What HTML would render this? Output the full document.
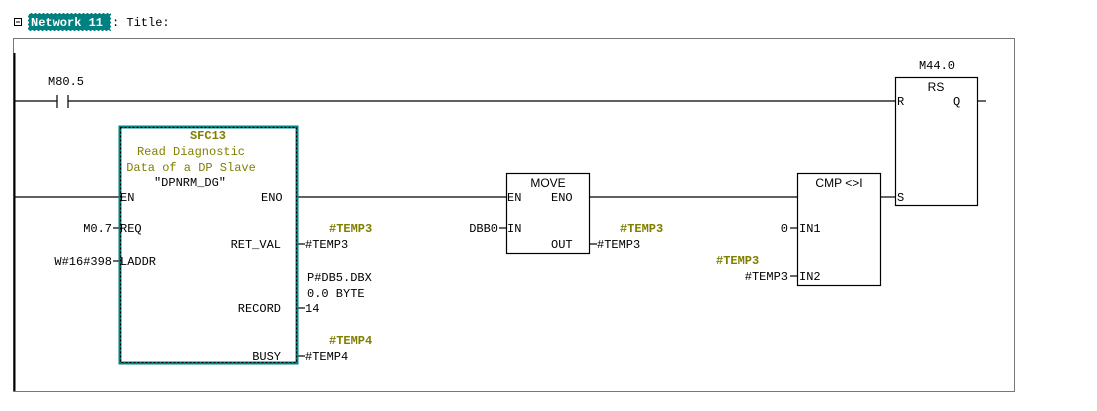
<!DOCTYPE html>
<html><head><style>
body{margin:0;background:#fff;width:1097px;height:406px;overflow:hidden}
svg text{font-family:"Liberation Mono","Noto Sans CJK SC",monospace;font-size:12px;fill:#000}
.o{fill:#808000;font-weight:bold}
.s{font-family:"Liberation Sans",sans-serif}
</style></head><body>
<svg width="1097" height="406" xmlns="http://www.w3.org/2000/svg">
<rect x="14.5" y="18.5" width="7" height="7" fill="none" stroke="#000"/>
<line x1="16" y1="22" x2="20" y2="22" stroke="#000"/>
<rect x="28" y="13" width="83" height="18" fill="#008080"/>
<rect x="28.5" y="13.5" width="82" height="17" fill="none" stroke="#fff" stroke-dasharray="2,2"/>
<text x="31" y="26" style="fill:#fff;font-weight:bold">Network 11</text>
<text x="112" y="26">: Title:</text>
<rect x="13.5" y="38.5" width="1001" height="353" fill="none" stroke="#777"/>
<line x1="14.5" y1="53" x2="14.5" y2="391" stroke="#000" stroke-width="2"/>
<g stroke="#000" stroke-width="1.2" fill="none">
<line x1="14" y1="101" x2="57" y2="101"/><line x1="68" y1="101" x2="895" y2="101"/>
<line x1="57" y1="95" x2="57" y2="108"/><line x1="68" y1="95" x2="68" y2="108"/>
<line x1="14" y1="197" x2="119" y2="197"/><line x1="298" y1="197" x2="506" y2="197"/>
<line x1="590" y1="197" x2="797" y2="197"/><line x1="880" y1="197" x2="895" y2="197"/>
<line x1="977" y1="101" x2="986" y2="101"/>
<line x1="113" y1="228" x2="119" y2="228"/><line x1="113" y1="261" x2="119" y2="261"/>
<line x1="298" y1="244" x2="305" y2="244"/><line x1="298" y1="308" x2="305" y2="308"/><line x1="298" y1="356" x2="305" y2="356"/>
<line x1="499" y1="228" x2="506" y2="228"/><line x1="590" y1="244" x2="597" y2="244"/>
<line x1="790" y1="228" x2="797" y2="228"/><line x1="790" y1="276" x2="797" y2="276"/>
<rect x="506.5" y="173.5" width="83" height="80"/>
<rect x="797.5" y="173.5" width="83" height="112"/>
<rect x="895.5" y="77.5" width="82" height="128"/>
</g>
<rect x="120" y="127" width="177" height="236" fill="none" stroke="#008080" stroke-width="3"/>
<rect x="120.5" y="127.5" width="176" height="235" fill="none" stroke="#000" stroke-dasharray="2,2"/>
<text x="48" y="85">M80.5</text>
<text x="208" y="139" text-anchor="middle" class="o">SFC13</text>
<text x="191" y="155" text-anchor="middle" style="fill:#808000">Read Diagnostic</text>
<text x="191" y="171" text-anchor="middle" style="fill:#808000">Data of a DP Slave</text>
<text x="190" y="186" text-anchor="middle">"DPNRM_DG"</text>
<text x="120" y="201">EN</text><text x="261" y="201">ENO</text>
<text x="112" y="232" text-anchor="end">M0.7</text><text x="120" y="232">REQ</text>
<text x="112" y="265" text-anchor="end">W#16#398</text><text x="120" y="265">LADDR</text>
<text x="281" y="248" text-anchor="end">RET_VAL</text>
<text x="281" y="312" text-anchor="end">RECORD</text>
<text x="281" y="360" text-anchor="end">BUSY</text>
<text x="329" y="232" class="o">#TEMP3</text>
<text x="305" y="248">#TEMP3</text>
<text x="307" y="281">P#DB5.DBX</text>
<text x="307" y="297">0.0 BYTE</text>
<text x="305" y="312">14</text>
<text x="329" y="344" class="o">#TEMP4</text>
<text x="305" y="360">#TEMP4</text>
<text x="548" y="187" text-anchor="middle" class="s">MOVE</text>
<text x="507" y="201">EN</text><text x="551" y="201">ENO</text>
<text x="498" y="232" text-anchor="end">DBB0</text><text x="507" y="232">IN</text>
<text x="551" y="248">OUT</text>
<text x="620" y="232" class="o">#TEMP3</text>
<text x="597" y="248">#TEMP3</text>
<text x="839" y="187" text-anchor="middle" class="s">CMP &lt;&gt;I</text>
<text x="788" y="232" text-anchor="end">0</text><text x="799" y="232">IN1</text>
<text x="716" y="264" class="o">#TEMP3</text>
<text x="788" y="280" text-anchor="end">#TEMP3</text><text x="799" y="280">IN2</text>
<text x="937" y="69" text-anchor="middle">M44.0</text>
<text x="936" y="91" text-anchor="middle" class="s">RS</text>
<text x="897" y="105">R</text><text x="953" y="105">Q</text>
<text x="897" y="201">S</text>
</svg>
</body></html>
